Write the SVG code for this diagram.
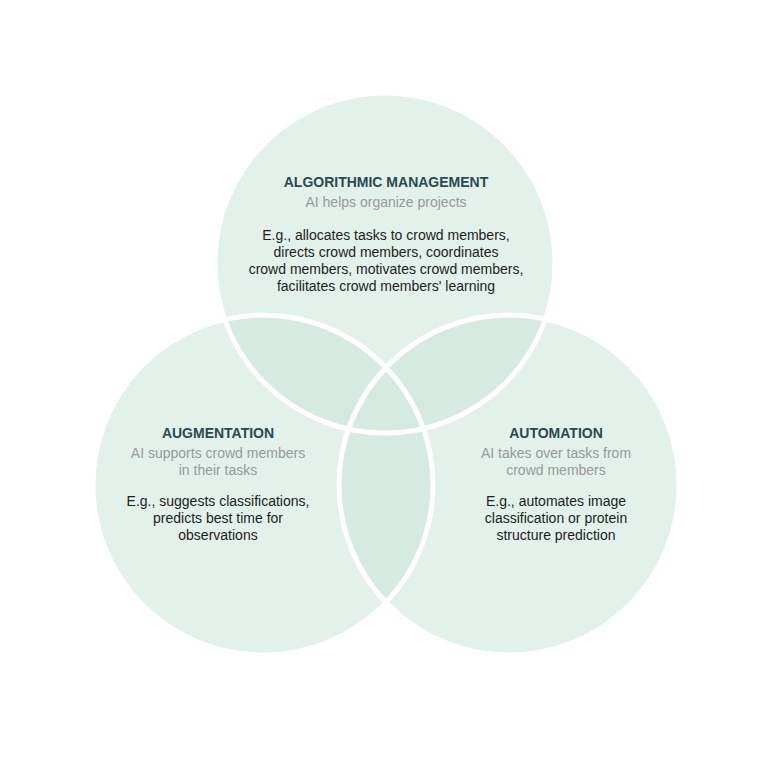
<svg xmlns="http://www.w3.org/2000/svg" width="768" height="768" viewBox="0 0 768 768">
<style>
.base{fill:#e2f1ea}
.ov{fill:#d5ebe2}
.ring{fill:none;stroke:#ffffff;stroke-width:5}
text{font-family:"Liberation Sans",Arial,sans-serif;font-size:14px;text-anchor:middle}
.t{font-weight:bold;fill:#2b4a50}
.s{fill:#9a9a9a}
.b{fill:#1e1e1e}
</style>
<defs>
<clipPath id="cTop"><circle cx="385" cy="263" r="170"/></clipPath>
<clipPath id="cLeft"><circle cx="263" cy="485" r="170"/></clipPath>
</defs>
<rect width="768" height="768" fill="#ffffff"/>
<g id="shapes">
<circle class="base" cx="385" cy="263" r="170"/>
<circle class="base" cx="263" cy="485" r="170"/>
<circle class="base" cx="509" cy="485" r="170"/>
<g clip-path="url(#cTop)"><circle class="ov" cx="263" cy="485" r="170"/><circle class="ov" cx="509" cy="485" r="170"/></g>
<g clip-path="url(#cLeft)"><circle class="ov" cx="509" cy="485" r="170"/></g>
</g>
<g id="connectors">
<circle class="ring" cx="385" cy="263" r="170"/>
<circle class="ring" cx="263" cy="485" r="170"/>
<circle class="ring" cx="509" cy="485" r="170"/>
</g>
<g id="node-algorithmic-management">
<text class="t" x="386" y="187">ALGORITHMIC MANAGEMENT</text>
<text class="s" x="386" y="207">AI helps organize projects</text>
<text class="b" x="386" y="240">E.g., allocates tasks to crowd members,</text>
<text class="b" x="386" y="257">directs crowd members, coordinates</text>
<text class="b" x="386" y="274">crowd members, motivates crowd members,</text>
<text class="b" x="386" y="291">facilitates crowd members' learning</text>
</g>
<g id="node-augmentation">
<text class="t" x="218" y="438">AUGMENTATION</text>
<text class="s" x="218" y="458">AI supports crowd members</text>
<text class="s" x="218" y="475">in their tasks</text>
<text class="b" x="218" y="506">E.g., suggests classifications,</text>
<text class="b" x="218" y="523">predicts best time for</text>
<text class="b" x="218" y="540">observations</text>
</g>
<g id="node-automation">
<text class="t" x="556" y="438">AUTOMATION</text>
<text class="s" x="556" y="458">AI takes over tasks from</text>
<text class="s" x="556" y="475">crowd members</text>
<text class="b" x="556" y="506">E.g., automates image</text>
<text class="b" x="556" y="523">classification or protein</text>
<text class="b" x="556" y="540">structure prediction</text>
</g>
</svg>
